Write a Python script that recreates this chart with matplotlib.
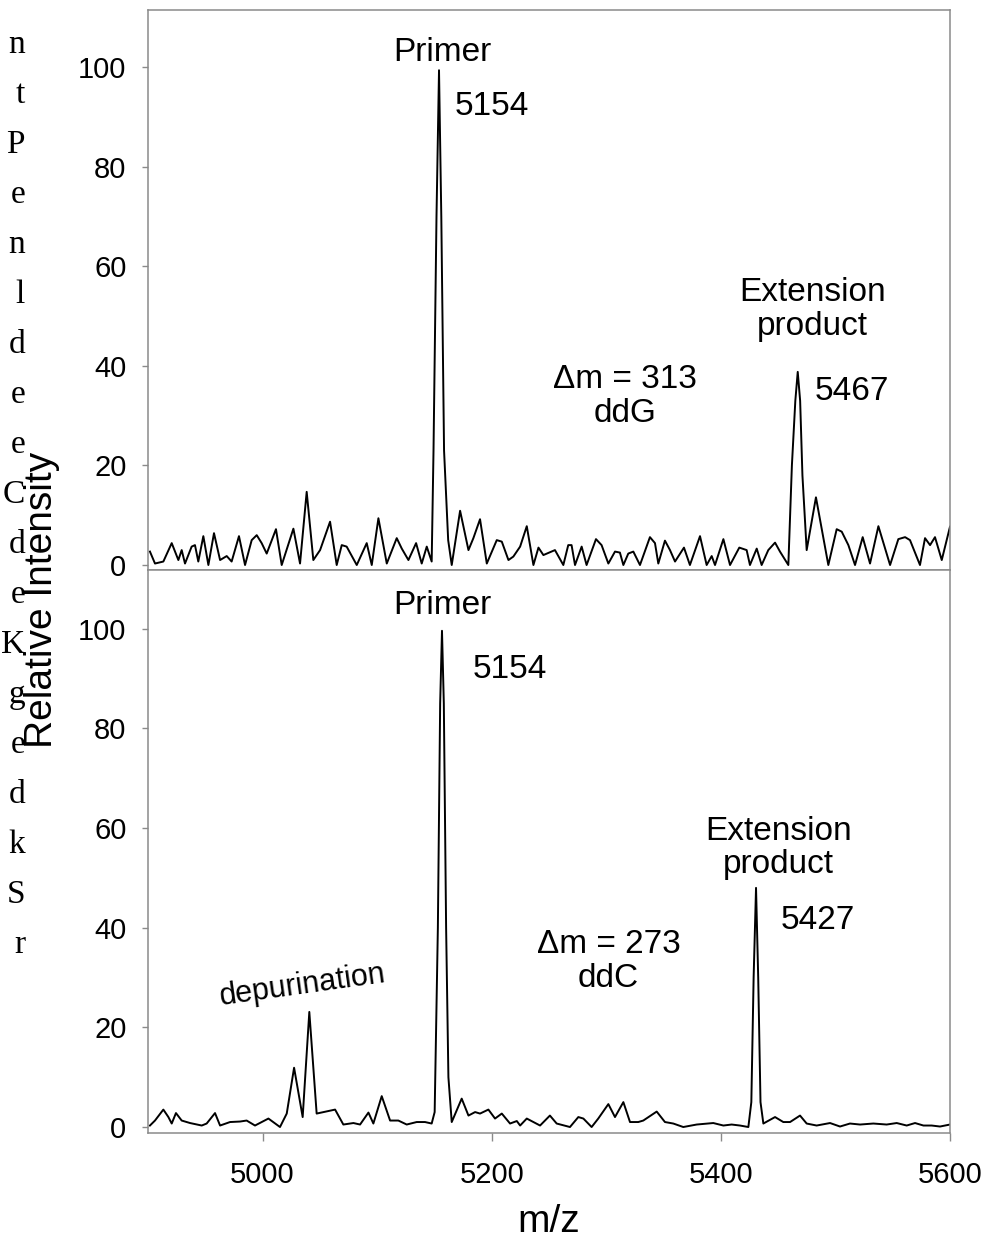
import matplotlib
matplotlib.use("Agg")
import matplotlib.pyplot as plt

# ---------------- data ----------------
top_mz = [4901.7, 4906.1, 4913.4, 4920.7, 4926.5, 4929.4, 4932.3, 4938.1, 4941.0, 4943.9,
          4948.3, 4952.7, 4957.6, 4962.9, 4968.7, 4973.0, 4979.4, 4984.7, 4990.5, 4994.9,
          4999.2, 5003.6, 5011.7, 5016.7, 5026.9, 5032.7, 5038.5, 5044.3, 5050.2, 5058.9,
          5064.7, 5069.1, 5073.4, 5082.2, 5090.9, 5095.3, 5101.1, 5108.4, 5117.1, 5121.5,
          5127.3, 5134.0, 5138.9, 5143.3, 5147.6, 5149.2, 5151.8, 5154.0, 5156.0, 5158.4,
          5162.0, 5165.1, 5172.4, 5179.7, 5184.0, 5189.8, 5195.7, 5204.4, 5208.8, 5214.6,
          5218.9, 5224.8, 5230.6, 5236.4, 5240.8, 5245.1, 5255.2, 5262.5, 5266.8, 5269.7,
          5272.7, 5278.5, 5282.8, 5291.0, 5295.9, 5301.8, 5307.6, 5311.9, 5314.9, 5319.2,
          5323.6, 5329.4, 5338.1, 5342.5, 5345.4, 5351.2, 5355.6, 5360.0, 5367.8, 5373.0,
          5381.8, 5387.6, 5392.0, 5394.9, 5402.2, 5408.0, 5416.1, 5422.5, 5425.4, 5431.3,
          5435.6, 5441.4, 5447.3, 5451.6, 5458.9, 5462.0, 5465.0, 5467.1, 5469.2, 5471.2,
          5474.9, 5483.0, 5493.8, 5501.1, 5505.5, 5511.3, 5517.1, 5523.8, 5530.2, 5537.5,
          5547.7, 5554.9, 5560.8, 5565.1, 5573.8, 5578.2, 5582.6, 5586.9, 5592.8, 5600.0]
top_int = [2.7, 0.3, 0.7, 4.4, 1.0, 3.0, 0.3, 3.7, 4.0, 0.7,
           5.8, 0.0, 6.4, 1.0, 1.8, 0.7, 5.8, 0.0, 5.0, 6.0,
           4.4, 2.3, 7.2, 0.0, 7.3, 0.3, 14.7, 1.0, 3.0, 8.7,
           0.0, 4.0, 3.7, 0.0, 4.4, 0.0, 9.4, 0.3, 5.4, 3.3,
           1.0, 4.4, 0.3, 3.7, 0.7, 23.0, 70.0, 99.4, 70.0, 23.0,
           5.0, 0.0, 10.9, 3.0, 5.4, 9.2, 0.3, 5.0, 4.7, 1.0,
           1.7, 3.7, 7.8, 0.0, 3.5, 2.0, 3.0, 0.0, 4.0, 4.0,
           0.0, 3.7, 0.0, 5.2, 4.0, 0.3, 2.7, 2.5, 0.0, 2.3,
           2.7, 0.0, 5.6, 4.4, 0.3, 4.9, 3.0, 0.7, 3.5, 0.0,
           5.8, 0.0, 1.8, 0.0, 5.2, 0.0, 3.5, 3.0, 0.0, 3.3,
           0.0, 3.0, 4.5, 2.7, 0.0, 20.0, 33.0, 38.8, 33.0, 18.0,
           3.0, 13.6, 0.0, 7.2, 6.7, 4.0, 0.0, 5.6, 0.3, 7.8,
           0.0, 5.2, 5.6, 5.0, 0.0, 5.4, 4.0, 5.6, 1.0, 7.7]

bot_mz = [4901.7, 4906.1, 4913.4, 4917.8, 4920.7, 4924.4, 4929.4, 4936.7, 4946.9, 4951.2,
          4958.5, 4962.9, 4971.6, 4980.3, 4986.1, 4993.4, 5005.1, 5015.2, 5021.1, 5027.5,
          5035.0, 5040.8, 5047.2, 5063.3, 5070.5, 5079.3, 5085.1, 5092.4, 5096.7, 5104.0,
          5111.3, 5118.5, 5125.8, 5134.5, 5141.8, 5147.6, 5150.2, 5153.0, 5155.0, 5156.6,
          5158.2, 5160.2, 5162.2, 5165.1, 5173.8, 5179.7, 5185.5, 5189.8, 5197.1, 5202.9,
          5208.8, 5216.0, 5221.9, 5224.8, 5230.6, 5242.2, 5250.8, 5256.7, 5268.3, 5275.6,
          5280.0, 5287.2, 5293.0, 5301.8, 5307.6, 5314.9, 5320.7, 5327.9, 5332.3, 5344.0,
          5351.2, 5358.5, 5367.2, 5378.9, 5393.4, 5402.2, 5409.4, 5416.7, 5424.0, 5426.6,
          5428.6, 5430.7, 5432.6, 5434.6, 5437.1, 5447.3, 5454.5, 5460.4, 5469.1, 5474.9,
          5483.6, 5495.3, 5504.0, 5512.7, 5521.5, 5533.1, 5544.7, 5553.5, 5562.2, 5569.5,
          5576.8, 5584.0, 5591.3, 5600.0]
bot_int = [0.3, 1.3, 3.5, 2.0, 0.7, 2.8, 1.3, 0.8, 0.3, 0.7,
           2.8, 0.3, 1.0, 1.1, 1.3, 0.3, 1.7, 0.0, 2.7, 11.9,
           2.0, 23.1, 2.7, 3.5, 0.5, 0.8, 0.5, 2.9, 0.7, 6.2,
           1.3, 1.3, 0.5, 1.0, 1.0, 0.7, 3.0, 40.0, 85.0, 99.6,
           85.0, 40.0, 10.0, 1.0, 5.7, 2.3, 3.0, 2.7, 3.5, 1.7,
           2.7, 0.7, 1.2, 0.3, 1.7, 0.3, 2.3, 0.7, 0.0, 2.0,
           1.7, 0.0, 1.7, 4.6, 2.0, 5.0, 1.0, 1.0, 1.3, 3.1,
           1.0, 0.7, 0.0, 0.5, 0.8, 0.3, 0.5, 0.3, 0.0, 5.0,
           30.0, 48.0, 30.0, 5.0, 0.7, 2.0, 1.0, 1.0, 2.3, 0.7,
           0.3, 0.8, 0.1, 0.7, 0.5, 0.7, 0.5, 0.8, 0.3, 0.8,
           0.3, 0.3, 0.1, 0.5]

y_ticks = [0, 20, 40, 60, 80, 100]
x_ticks = [5000, 5200, 5400, 5600]

# cut-off letters of the neighbouring text column
side_letters = ["n", "t", "P", "e", "n", "l", "d", "e", "e", "C",
                "d", "e", "K", "g", "e", "d", "k", "S", "r"]

# ---------------- figure ----------------
W, H = 998, 1239
fig = plt.figure(figsize=(W / 100, H / 100), dpi=100)
plt.rcParams["font.family"] = ["Liberation Sans", "DejaVu Sans"]

left, right = 148 / W, 950 / W
mid = 1 - 570 / H
top = 1 - 10 / H
bottom = 1 - 1133 / H

ax1 = fig.add_axes([left, mid, right - left, top - mid])
ax2 = fig.add_axes([left, bottom, right - left, mid - bottom])

spine_col = "#8a8a8a"
for ax in (ax1, ax2):
    ax.set_xlim(4900, 5600)
    ax.set_yticks(y_ticks)
    ax.set_xticks(x_ticks)
    for s in ax.spines.values():
        s.set_color(spine_col)
        s.set_linewidth(1.1)
    ax.tick_params(axis="y", direction="out", length=4.5, width=1.0,
                   color=spine_col, labelsize=21, pad=11)
    ax.tick_params(axis="x", direction="out", length=6, width=1.0,
                   color=spine_col, labelsize=21, pad=14)

ax1.set_ylim(-1, 111.5)
ax2.set_ylim(-1.2, 111.8)
ax1.tick_params(axis="x", length=0, labelbottom=False)

line_kw = dict(color="black", lw=1.4, solid_joinstyle="round")
ax1.plot(top_mz, top_int, **line_kw)
ax2.plot(bot_mz, bot_int, **line_kw)

fs = 24
ls = 1.12
# top panel annotations
ax1.text(5157, 103.0, "Primer", ha="center", va="center", fontsize=fs)
ax1.text(5168, 92.2, "5154", ha="left", va="center", fontsize=fs)
ax1.text(5480, 51.4, "Extension\nproduct", ha="center", va="center",
         fontsize=fs, linespacing=ls)
ax1.text(5482, 34.8, "5467", ha="left", va="center", fontsize=fs)
ax1.text(5316, 33.8, "\u0394m = 313\nddG", ha="center", va="center",
         fontsize=fs, linespacing=ls)

# bottom panel annotations
ax2.text(5157, 104.7, "Primer", ha="center", va="center", fontsize=fs)
ax2.text(5183, 91.8, "5154", ha="left", va="center", fontsize=fs)
ax2.text(5450, 56.0, "Extension\nproduct", ha="center", va="center",
         fontsize=fs, linespacing=ls)
ax2.text(5452, 41.4, "5427", ha="left", va="center", fontsize=fs)
ax2.text(5302, 33.2, "\u0394m = 273\nddC", ha="center", va="center",
         fontsize=fs, linespacing=ls)
ax2.text(5035, 28.5, "depurination", ha="center", va="center",
         fontsize=22, rotation=8)

# axis labels
fig.text(549 / W, 1 - 1222 / H, "m/z", ha="center", va="center", fontsize=28)
fig.text(42 / W, 1 - 600 / H, "Relative Intensity", ha="center", va="center",
         fontsize=28, rotation=90)

# side text column fragments
for i, ch in enumerate(side_letters):
    fig.text(25 / W, 1 - (45 + 50 * i) / H, ch, ha="right", va="center",
             fontsize=24, family="Liberation Serif")

fig.savefig("out.png", dpi=100)
